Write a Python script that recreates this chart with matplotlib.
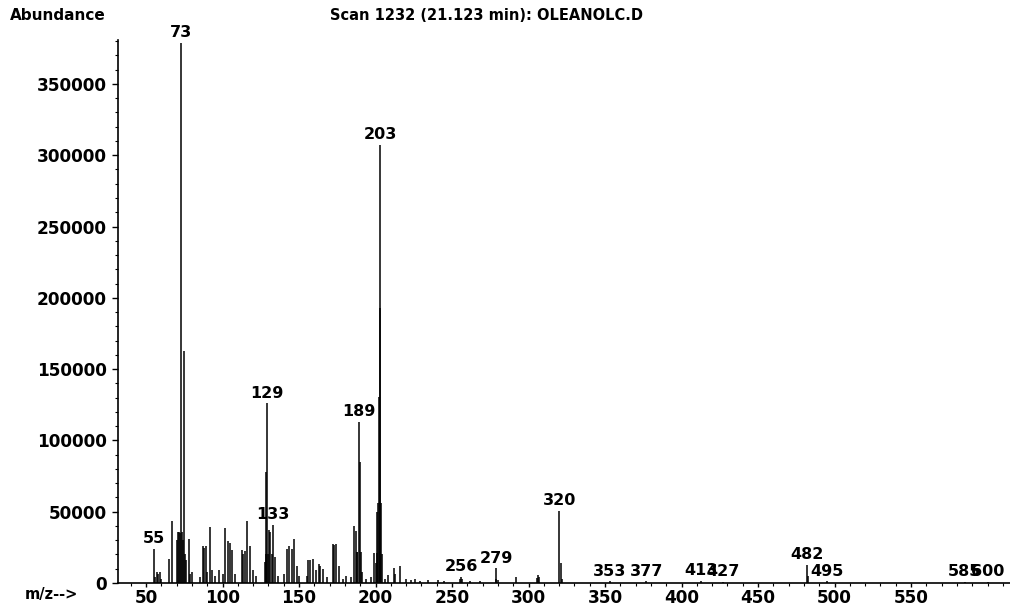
import matplotlib

matplotlib.use('Agg')
import matplotlib.pyplot as plt
from matplotlib.ticker import MultipleLocator

# scan 1232 - stick list
mz = [55, 56, 57, 58, 59, 60, 65, 67,
      70.5, 71.2, 71.8, 72.4, 73, 73.6, 74.3, 75, 75.6, 76, 78, 79, 80,
      85, 87, 88, 89, 90, 92, 93, 95, 97.5, 100, 101.8, 103.4, 104.9, 106.2, 108,
      112.5, 113.5, 114.7, 116.2, 118, 119.7, 122,
      127.5, 128.2, 128.7, 129, 129.6, 130.2, 131.2, 132.4, 133, 134.5, 136,
      140, 142, 143.6, 145.1, 147, 148.6, 150, 155, 156, 157.5, 159, 161, 163, 164, 166, 168,
      172, 173.2, 174.5, 176, 179, 181, 184,
      186, 187, 187.6, 188.2, 189, 189.6, 190.3, 191, 194, 197,
      199, 200, 200.8, 201.3, 201.8, 202.3, 202.7, 203, 203.5, 204, 206, 208,
      212, 213, 216, 220, 223, 226, 229, 234, 241, 245,
      255.5, 256, 256.6, 262, 268, 278.5, 279, 280, 292, 305.5, 306, 307,
      320, 321, 322, 353, 377, 413, 427, 482, 483, 495, 585, 600]
abundance = [23700, 4500, 7500, 6000, 7800, 3000, 16800, 43500,
             30000, 36000, 36000, 35000, 379000, 36000, 30000, 163000, 20000, 16100, 30900, 6000, 8000,
             4000, 26000, 24500, 26000, 8000, 39500, 9000, 5000, 9000, 6000, 38300, 29600, 28000, 23400, 6000,
             23400, 20000, 22600, 43300, 25700, 8800, 5000,
             15000, 20000, 78000, 126000, 20000, 37100, 35800, 20000, 40700, 17900, 5000,
             6000, 23600, 25700, 23600, 31100, 12000, 5000, 5000, 16300, 16000, 16500, 9000, 13000, 12000, 10000, 4000,
             27100, 26500, 27700, 12000, 3000, 5000, 4000,
             40200, 36600, 22000, 22000, 113000, 85000, 22000, 8000, 3000, 4000,
             21000, 14000, 21000, 50000, 56000, 130600, 193000, 307000, 56000, 20000, 3000, 5600,
             10500, 6000, 12100, 2500, 2000, 2500, 1500, 2000, 2000, 1500,
             3000, 4400, 3000, 1200, 1500, 3000, 10300, 2000, 4000, 3500, 5600, 4500,
             50700, 14000, 3000, 1200, 1200, 1500, 1000, 12600, 5000, 1200, 1000, 1000]

# peaks with printed m/z labels
label_mz = [55, 73, 129, 133, 189, 203, 256, 279, 320, 353, 377, 413, 427, 482, 495, 585, 600]

x_ticks = [50, 100, 150, 200, 250, 300, 350, 400, 450, 500, 550]
y_ticks = [0, 50000, 100000, 150000, 200000, 250000, 300000, 350000]

plt.rcParams['font.family'] = ['DejaVu Sans']

W, H = 1010, 607
fig = plt.figure(figsize=(W / 100, H / 100), dpi=100)
ax = fig.add_axes([118 / W, 24 / H, 892 / W, 543 / H])

ax.vlines(mz, 0, abundance, colors='black', linewidth=1.1)

height = dict(zip(mz, abundance))
for m in label_mz:
    ax.annotate(str(m), xy=(m, height[m]), xytext=(0, 2), textcoords='offset points',
                ha='center', va='bottom', fontsize=11.5, fontweight='bold')

ax.set_xlim(31.7, 614.7)
ax.set_ylim(0, 380800)

ax.set_xticks(x_ticks)
ax.set_xticklabels([str(v) for v in x_ticks])
ax.set_yticks(y_ticks)
ax.set_yticklabels([str(v) for v in y_ticks])
ax.xaxis.set_minor_locator(MultipleLocator(10))
ax.yaxis.set_minor_locator(MultipleLocator(10000))

for lab in ax.get_xticklabels() + ax.get_yticklabels():
    lab.set_fontsize(12.2)
    lab.set_fontweight('bold')

ax.tick_params(axis='y', which='major', direction='out', length=4, width=1.0, pad=4)
ax.tick_params(axis='x', which='major', direction='out', length=3, width=1.0, pad=1)
ax.tick_params(axis='both', which='minor', direction='out', length=2.5, width=0.8)

for side in ['top', 'right']:
    ax.spines[side].set_visible(False)
ax.spines['left'].set_linewidth(1.2)
ax.spines['bottom'].set_linewidth(1.2)

fig.text(10 / W, 1 - 15 / H, 'Abundance', ha='left', va='center', fontsize=11, fontweight='bold')
fig.text(487 / W, 1 - 15 / H, 'Scan 1232 (21.123 min): OLEANOLC.D', ha='center', va='center',
         fontsize=10.5, fontweight='bold')
fig.text(25 / W, 1 - 595 / H, 'm/z-->', ha='left', va='center', fontsize=10.5, fontweight='bold')

fig.savefig('out.png', dpi=100)
